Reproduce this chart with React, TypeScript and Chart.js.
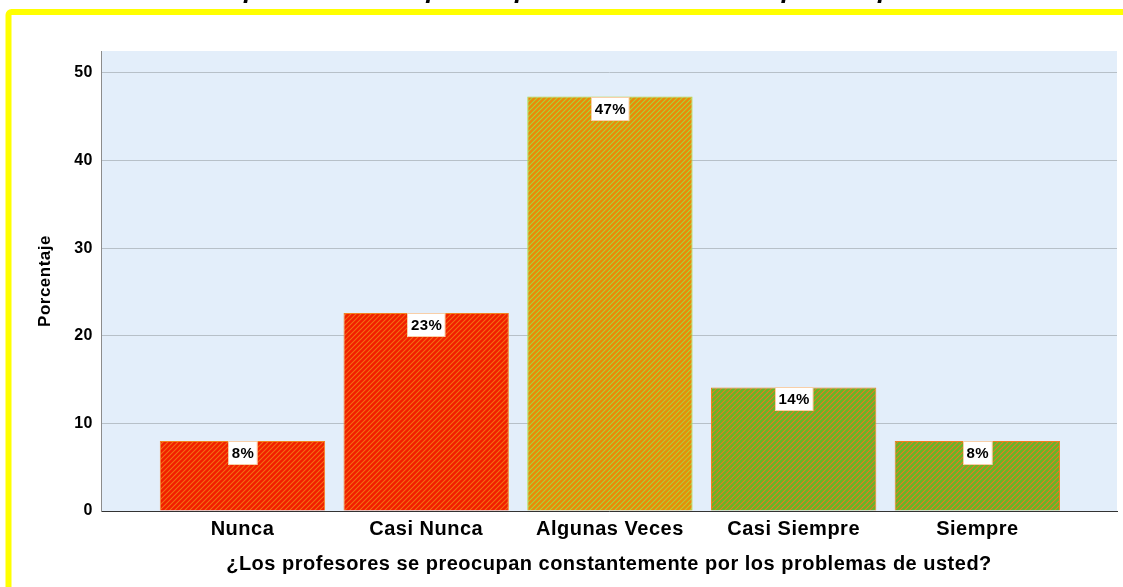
import React, { useEffect, useRef } from "react";
import { Chart, registerables } from "chart.js";

Chart.register(...registerables);

const categories = ["Nunca", "Casi Nunca", "Algunas Veces", "Casi Siempre", "Siempre"];
const values = [8.0, 22.6, 47.3, 14.1, 8.0];
const pctLabels = ["8%", "23%", "47%", "14%", "8%"];
const yTicks = [0, 10, 20, 30, 40, 50];
const xTitle = "¿Los profesores se preocupan constantemente por los problemas de usted?";
const yTitle = "Porcentaje";
const topTitle = "Los profesores se preocupan constantemente por los problemas de usted";

const baseColors = ["#F21E00", "#F21E00", "#EA8A08", "#62B82A", "#62B82A"];
const stripeColors = ["#F26E14", "#F26E14", "#A8D43A", "#EA7A1E", "#EA7A1E"];
const borderColors = ["#F5821E", "#F5821E", "#A8E040", "#F0801E", "#F0801E"];

const FONT = "'Liberation Sans', Arial, sans-serif";
const SPACING = "0.5px";

function makePattern(base: string, stripe: string): CanvasPattern | string {
  const s = 5;
  const c = document.createElement("canvas");
  c.width = s;
  c.height = s;
  const ctx = c.getContext("2d");
  if (!ctx) return base;
  ctx.fillStyle = base;
  ctx.fillRect(0, 0, s, s);
  ctx.strokeStyle = stripe;
  ctx.lineWidth = 1.1;
  ctx.beginPath();
  ctx.moveTo(0, s);
  ctx.lineTo(s, 0);
  ctx.moveTo(-1, 1);
  ctx.lineTo(1, -1);
  ctx.moveTo(s - 1, s + 1);
  ctx.lineTo(s + 1, s - 1);
  ctx.stroke();
  const p = ctx.createPattern(c, "repeat");
  return p || base;
}

const decorPlugin = {
  id: "decor",
  beforeUpdate(chart: any) {
    (chart.ctx as any).letterSpacing = SPACING;
  },
  beforeDraw(chart: any) {
    const { ctx, chartArea } = chart;
    (ctx as any).letterSpacing = SPACING;
    ctx.save();
    ctx.fillStyle = "#E3EEFA";
    ctx.fillRect(chartArea.left, chartArea.top, chartArea.right - chartArea.left, chartArea.bottom - chartArea.top);
    ctx.restore();
  },
  afterDraw(chart: any) {
    const { ctx, chartArea } = chart;
    ctx.save();
    // yellow frame
    ctx.strokeStyle = "#FFFF00";
    ctx.lineWidth = 6;
    ctx.beginPath();
    ctx.roundRect(8.5, 12, 1300, 800, 3);
    ctx.stroke();
    // cut-off top title (only descenders visible)
    (ctx as any).letterSpacing = "0px";
    ctx.fillStyle = "#000";
    ctx.font = `italic bold 24px ${FONT}`;
    const i1 = topTitle.indexOf("p");
    const i2 = topTitle.indexOf("por");
    const d24 = ctx.measureText(topTitle.slice(0, i2)).width - ctx.measureText(topTitle.slice(0, i1)).width;
    const size = (24 * (780 - 242)) / d24;
    ctx.font = `italic bold ${size.toFixed(2)}px ${FONT}`;
    ctx.textBaseline = "alphabetic";
    ctx.textAlign = "left";
    const pre = ctx.measureText(topTitle.slice(0, i1)).width;
    ctx.fillText(topTitle, 244 - pre, -2);
    (ctx as any).letterSpacing = SPACING;
    // axis titles
    ctx.font = `bold 20px ${FONT}`;
    ctx.textAlign = "center";
    ctx.textBaseline = "middle";
    ctx.fillText(xTitle, (chartArea.left + chartArea.right) / 2, 564);
    ctx.translate(45, 281);
    ctx.rotate(-Math.PI / 2);
    ctx.font = `bold 17px ${FONT}`;
    ctx.fillText(yTitle, 0, 0);
    ctx.restore();
  },
  afterDatasetsDraw(chart: any) {
    const { ctx } = chart;
    const meta = chart.getDatasetMeta(0);
    ctx.save();
    (ctx as any).letterSpacing = SPACING;
    ctx.font = `bold 15px ${FONT}`;
    ctx.textAlign = "center";
    ctx.textBaseline = "middle";
    meta.data.forEach((bar: any, i: number) => {
      const txt = pctLabels[i];
      const w = ctx.measureText(txt).width + 6;
      const h = 23;
      const x = Math.round(bar.x - w / 2) + 0.5;
      const y = Math.round(bar.y) + 0.5;
      ctx.fillStyle = "#FFFFFF";
      ctx.fillRect(x, y, w, h);
      ctx.strokeStyle = "#F8CFA8";
      ctx.lineWidth = 1;
      ctx.strokeRect(x, y, w, h);
      ctx.fillStyle = "#000";
      ctx.fillText(txt, bar.x + 0.5, y + h / 2 + 1);
    });
    ctx.restore();
  },
};

export default function App() {
  const ref = useRef<HTMLCanvasElement | null>(null);
  useEffect(() => {
    if (!ref.current) return;
    const patterns = baseColors.map((b, i) => makePattern(b, stripeColors[i]));
    const chart = new Chart(ref.current, {
      type: "bar",
      data: {
        datasets: [
          {
            data: values.map((v, i) => ({ x: i, y: v })),
            backgroundColor: patterns as any,
            borderColor: borderColors,
            borderWidth: 1,
            barPercentage: 0.9,
            categoryPercentage: 1,
          },
        ],
      },
      options: {
        responsive: false,
        animation: false,
        layout: { padding: { left: 0, top: 51, right: 6, bottom: 0 } },
        plugins: { legend: { display: false }, tooltip: { enabled: false } },
        scales: {
          x: {
            type: "linear",
            min: -0.77,
            max: 4.76,
            offset: false,
            afterBuildTicks: (scale: any) => {
              scale.ticks = categories.map((_, i) => ({ value: i }));
            },
            afterFit: (scale: any) => {
              scale.height = 76;
            },
            ticks: {
              autoSkip: false,
              maxRotation: 0,
              padding: 6,
              color: "#000",
              font: { family: FONT, size: 20, weight: "bold" },
              callback: (v: any) => categories[v] ?? "",
            },
            grid: { display: false, drawTicks: false },
            border: { display: true, color: "#333333", width: 1 },
          },
          y: {
            type: "linear",
            min: 0,
            max: 52.5,
            afterBuildTicks: (scale: any) => {
              scale.ticks = yTicks.map((v) => ({ value: v }));
            },
            afterFit: (scale: any) => {
              scale.width = 101;
            },
            ticks: {
              padding: 8,
              color: "#000",
              font: { family: FONT, size: 16, weight: "bold" },
            },
            grid: { color: "#B7C0C8", lineWidth: 1, drawTicks: false },
            border: { display: true, color: "#8C8C8C", width: 1 },
          },
        },
      },
      plugins: [decorPlugin],
    } as any);
    return () => chart.destroy();
  }, []);
  return (
    <div style={{ position: "fixed", left: 0, top: 0, width: 1123, height: 587, background: "#fff" }}>
      <canvas ref={ref} width={1123} height={587} style={{ display: "block" }} />
    </div>
  );
}
